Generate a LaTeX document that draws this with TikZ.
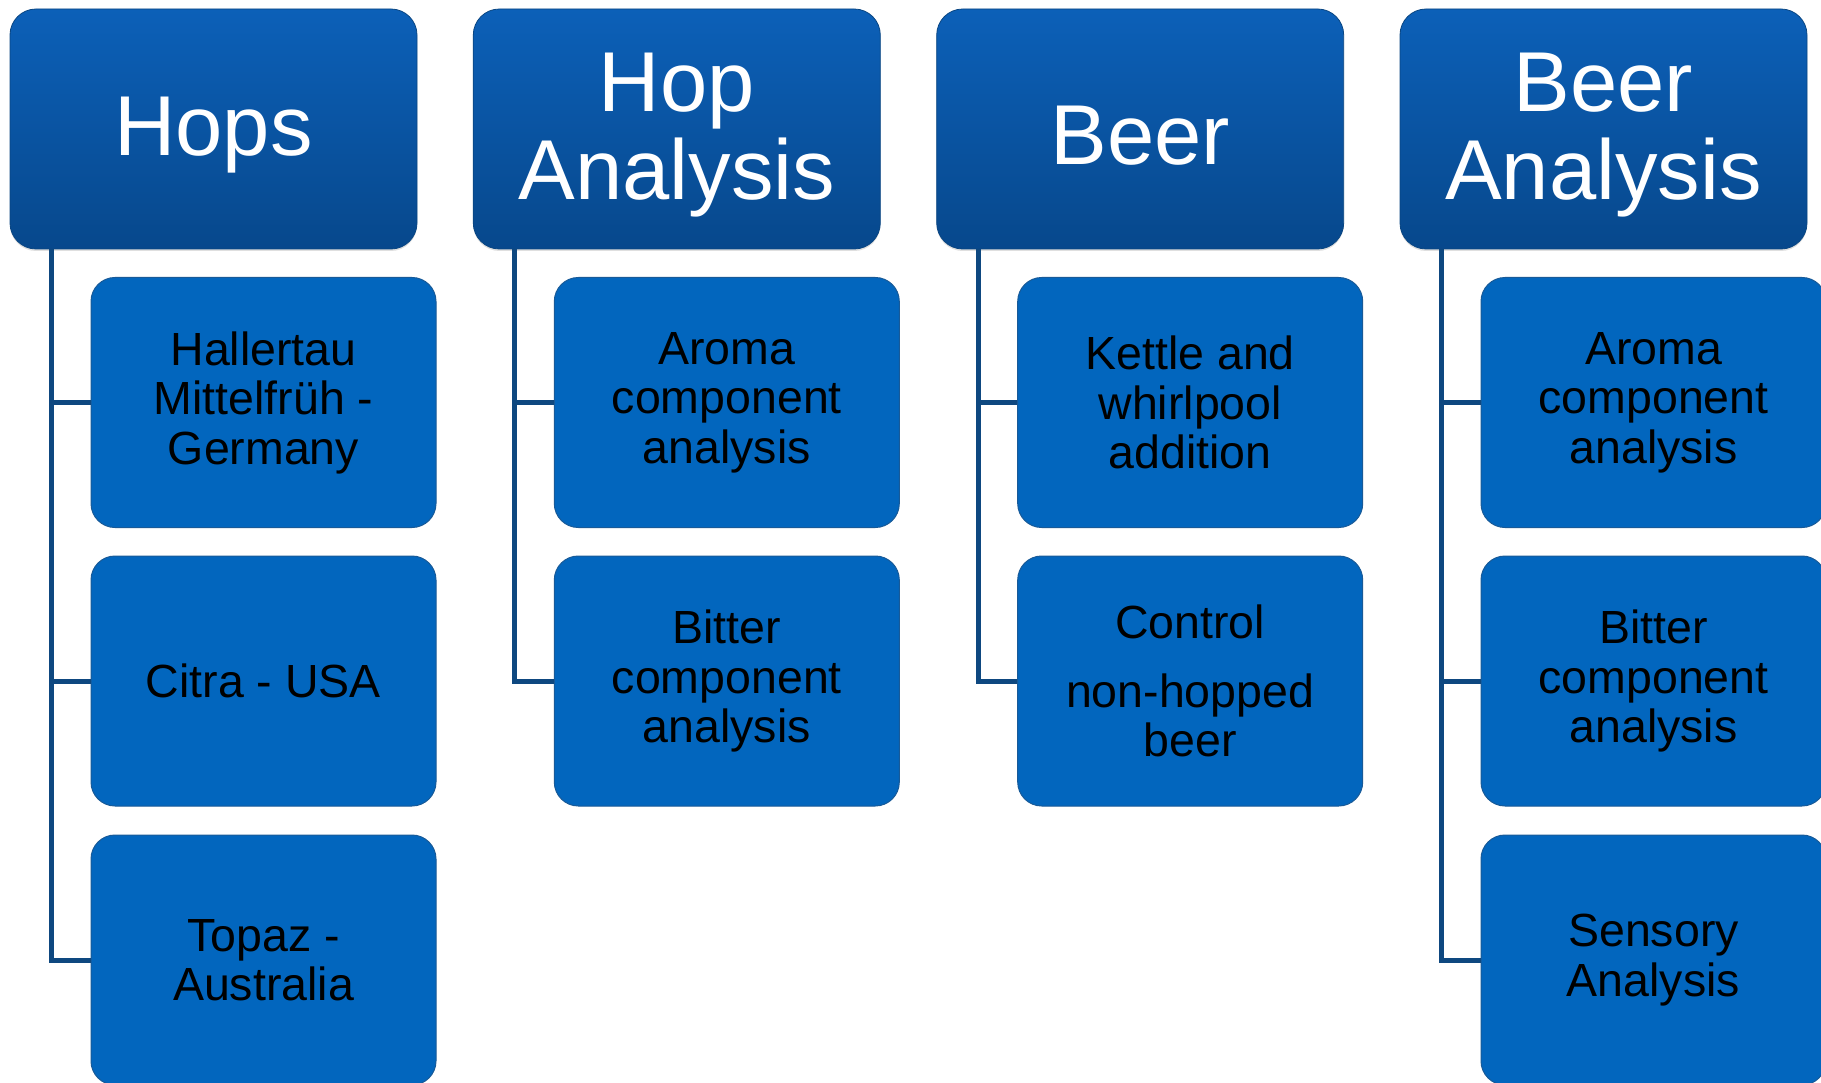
\documentclass[tikz,border=0pt]{standalone}
\usepackage{fontspec}
\setmainfont{Liberation Sans}
\usetikzlibrary{shadows}
\definecolor{hdtop}{RGB}{12,96,184}
\definecolor{hdbot}{RGB}{7,72,140}
\definecolor{hdline}{RGB}{10,70,130}
\definecolor{chfill}{RGB}{2,102,190}
\definecolor{chline}{RGB}{24,90,152}
\definecolor{connc}{RGB}{14,72,128}
\newcommand{\hstrut}{\rule{0pt}{71pt}}
\begin{document}
\begin{tikzpicture}[x=1pt,y=-1pt,
  header/.style={draw=hdline, line width=0.8pt, rounded corners=26pt,
    top color=hdtop, bottom color=hdbot,
    drop shadow={opacity=0.25, shadow xshift=0pt, shadow yshift=-2pt},
    minimum width=407pt, minimum height=240pt, inner sep=0pt,
    text=white, font=\fontsize{85}{88}\selectfont, align=center},
  child/.style={draw=chline, line width=1pt, fill=chfill, rounded corners=24pt,
    minimum width=345pt, minimum height=250pt, inner sep=0pt,
    text=black, font=\fontsize{46.5}{49.5}\selectfont, align=center},
  link/.style={draw=connc, line width=5pt, line join=miter}]
\useasboundingbox (0,0) rectangle (1821,1083);
\clip (0,0) rectangle (1821,1083);

% headers
\node[header] (h1) at (213.5,129) {\hstrut Hops};
\node[header] (h2) at (676.8,129) {\hstrut Hop\\Analysis};
\node[header] (h3) at (1140.2,129) {\hstrut Beer};
\node[header] (h4) at (1603.5,129) {\hstrut Beer\\Analysis};

% children
\node[child] (c11) at (263.5,402.5) {Hallertau\\Mittelfrüh -\\Germany};
\node[child] (c12) at (263.5,681) {Citra - USA};
\node[child] (c13) at (263.5,960) {Topaz -\\Australia};

\node[child] (c21) at (726.8,402.5) {Aroma\\component\\analysis};
\node[child] (c22) at (726.8,681) {Bitter\\component\\analysis};

\node[child] (c31) at (1190.2,402.5) {Kettle and\\whirlpool\\addition};
\node[child] (c32) at (1190.2,681) {Control\\[19pt]non-hopped\\beer};

\node[child] (c41) at (1653.5,402.5) {Aroma\\component\\analysis};
\node[child] (c42) at (1653.5,681) {Bitter\\component\\analysis};
\node[child] (c43) at (1653.5,960) {Sensory\\Analysis};

% connectors
\draw[link] ([xshift=42pt]h1.south west) |- (c11.west);
\draw[link] ([xshift=42pt]h1.south west) |- (c12.west);
\draw[link] ([xshift=42pt]h1.south west) |- (c13.west);
\draw[link] ([xshift=42pt]h2.south west) |- (c21.west);
\draw[link] ([xshift=42pt]h2.south west) |- (c22.west);
\draw[link] ([xshift=42pt]h3.south west) |- (c31.west);
\draw[link] ([xshift=42pt]h3.south west) |- (c32.west);
\draw[link] ([xshift=42pt]h4.south west) |- (c41.west);
\draw[link] ([xshift=42pt]h4.south west) |- (c42.west);
\draw[link] ([xshift=42pt]h4.south west) |- (c43.west);
\end{tikzpicture}
\end{document}
